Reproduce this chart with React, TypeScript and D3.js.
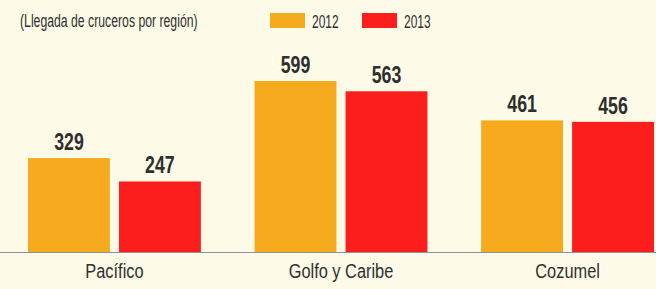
import React, { useEffect, useRef } from "react";
import * as d3 from "d3";

const regions = ["Pacífico", "Golfo y Caribe", "Cozumel"];
const years = ["2012", "2013"];
const values2012 = [329, 599, 461];
const values2013 = [247, 563, 456];
const title = "(Llegada de cruceros por región)";

const colors = ["#f6ab1e", "#fc1d1d"];

export default function App() {
  const ref = useRef<SVGSVGElement>(null);

  useEffect(() => {
    const W = 656,
      H = 289;
    const svg = d3.select(ref.current);
    svg.selectAll("*").remove();

    svg.append("rect").attr("width", W).attr("height", H).attr("fill", "#fdfbe7");

    const base = 252;
    const x0 = d3.scaleBand().domain(regions).range([28, 654]).paddingInner(0.237).paddingOuter(0);
    const x1 = d3.scaleBand().domain(years).range([0, x0.bandwidth()]).paddingInner(0.1);
    const y = d3.scaleLinear().domain([0, 599]).range([base, 81]);

    const rows = regions.map((r, i) => ({ region: r, vals: [values2012[i], values2013[i]] }));

    // condensed text helper
    const label = (
      g: any,
      x: number,
      yy: number,
      txt: string,
      size: number,
      sx: number,
      anchor = "middle",
      weight = "normal"
    ) =>
      g
        .append("text")
        .attr("transform", `translate(${x},${yy}) scale(${sx},1)`)
        .attr("text-anchor", anchor)
        .attr("font-family", "'Liberation Sans', Arial, sans-serif")
        .attr("font-size", size)
        .attr("font-weight", weight)
        .attr("fill", "#2f2f2f")
        .text(txt);

    const groups = svg
      .selectAll("g.grp")
      .data(rows)
      .join("g")
      .attr("class", "grp")
      .attr("transform", (d) => `translate(${x0(d.region)},0)`);

    groups
      .selectAll("rect")
      .data((d) => d.vals.map((v, j) => ({ year: years[j], v })))
      .join("rect")
      .attr("x", (d) => x1(d.year)!)
      .attr("y", (d) => y(d.v))
      .attr("width", x1.bandwidth())
      .attr("height", (d) => base - y(d.v))
      .attr("fill", (d, j) => colors[j]);

    rows.forEach((d) => {
      const gx = x0(d.region)!;
      d.vals.forEach((v, j) => {
        label(svg, gx + x1(years[j])! + x1.bandwidth() / 2, y(v) - 8, String(v), 24, 0.74, "middle", "bold");
      });
      label(svg, gx + x0.bandwidth() / 2, 278, d.region, 21, 0.78);
    });

    // baseline
    svg
      .append("line")
      .attr("x1", 0)
      .attr("x2", W)
      .attr("y1", base + 0.5)
      .attr("y2", base + 0.5)
      .attr("stroke", "#8a8f9a")
      .attr("stroke-width", 1.2);

    // title
    label(svg, 20, 27, title, 19, 0.645, "start");

    // legend
    const legX = [270, 362];
    years.forEach((yr, j) => {
      svg
        .append("rect")
        .attr("x", legX[j])
        .attr("y", 13)
        .attr("width", 35)
        .attr("height", 15)
        .attr("fill", colors[j]);
      label(svg, legX[j] + 42, 28, yr, 19, 0.63, "start");
    });
  }, []);

  return (
    <svg
      ref={ref}
      width={656}
      height={289}
      style={{ position: "fixed", top: 0, left: 0, display: "block" }}
    ></svg>
  );
}
